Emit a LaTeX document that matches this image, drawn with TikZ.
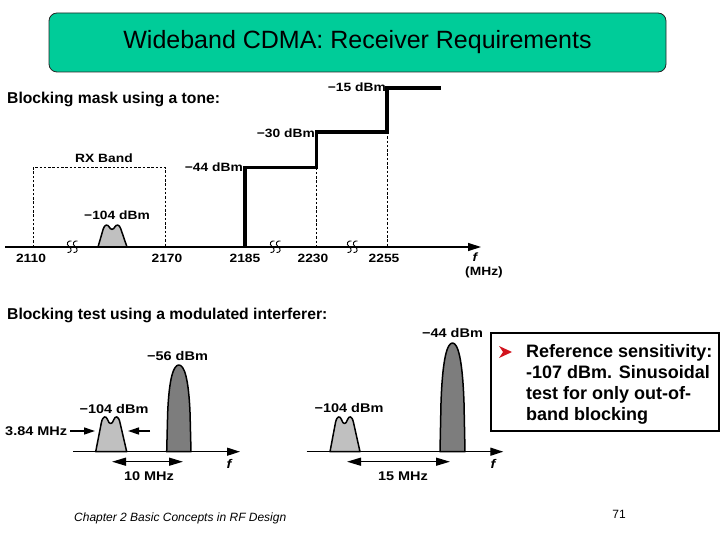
\documentclass[tikz,border=0pt]{standalone}
\usepackage{fontspec}
\setmainfont{Liberation Sans}
\newfontfamily\figfont{Liberation Sans}[FakeStretch=1.15]
\usetikzlibrary{arrows.meta}

\definecolor{titlegreen}{RGB}{0,204,153}
\definecolor{bandlight}{RGB}{192,192,192}
\definecolor{banddark}{RGB}{125,125,125}
\definecolor{bulletred}{RGB}{210,20,30}

\tikzset{
  titlebox/.style={draw=black!85,line width=0.8pt,fill=titlegreen,rounded corners=8pt,
    minimum width=617pt,minimum height=59pt,font=\fontsize{25}{30}\selectfont},
  headtxt/.style={anchor=base west,inner sep=0pt,font=\bfseries\fontsize{15.7}{19}\selectfont},
  toplbl/.style={anchor=base,inner sep=0pt,font=\figfont\bfseries\fontsize{12}{14}\selectfont},
  botlbl/.style={anchor=base,inner sep=0pt,font=\figfont\bfseries\fontsize{12.6}{15}\selectfont},
  maskline/.style={line width=3.6pt},
  dashline/.style={line width=0.9pt,dash pattern=on 2.5pt off 1.8pt},
  axisline/.style={line width=1.3pt,-{Triangle[length=13pt,width=8pt]}},
  spanarrow/.style={line width=1.3pt,{Triangle[length=14pt,width=8pt]}-{Triangle[length=14pt,width=8pt]}},
  bwarrow/.style={line width=1.3pt,-{Triangle[length=11pt,width=7pt]}},
  bandline/.style={line width=1.5pt,line join=round},
  breakline/.style={line width=0.9pt},
  notebox/.style={draw,line width=1.2pt,minimum width=228pt,minimum height=98pt},
  notetxt/.style={anchor=base west,inner sep=0pt,font=\bfseries\fontsize{18}{21}\selectfont},
}

% wanted channel: #1,#2 = foot left, #3 = width, #4 = height
\newcommand{\wantband}[4]{%
  \begin{scope}[shift={(#1,#2)},xscale=#3/30,yscale=#4/30]
    \draw[bandline,fill=bandlight] (0,0) -- (5.5,-25)
      .. controls (7,-31) and (10,-31) .. (11.5,-27.5)
      .. controls (13,-23) and (16,-23) .. (17.5,-27.5)
      .. controls (19,-31) and (22,-31) .. (23.5,-25) -- (30,0) -- cycle;
  \end{scope}}
% interferer
\newcommand{\blockband}[4]{%
  \begin{scope}[shift={(#1,#2)},xscale=#3/25,yscale=#4/100]
    \draw[bandline,fill=banddark] (0,0) -- (1,-45)
      .. controls (2.5,-85) and (7,-100) .. (12.5,-100)
      .. controls (18,-100) and (22.5,-85) .. (24,-45) -- (25,0) -- cycle;
  \end{scope}}
% break mark on the axis
\newcommand{\axisbreak}[2]{%
  \foreach \d in {-3,3} {
    \draw[breakline] (#1+\d+2.5,#2-6) .. controls (#1+\d-1,#2-7) and (#1+\d-3.5,#2-3) .. (#1+\d,#2-0.5)
      .. controls (#1+\d+3.5,#2+2) and (#1+\d+2.5,#2+6) .. (#1+\d-1.5,#2+5.5);
  }}

\begin{document}
\begin{tikzpicture}[x=1pt,y=-1pt]
  \useasboundingbox (0,0) rectangle (720,540);

  \node[titlebox] (title) at (357.5,42.5) {Wideband CDMA: Receiver Requirements};

  \node[headtxt] (head1) at (7,104) {Blocking mask using a tone:};
  \node[headtxt] (head2) at (7,319) {Blocking test using a modulated interferer:};

  % --- blocking mask ---
  \coordinate (rx0) at (33,247);
  \coordinate (rx1) at (33,167.5);
  \coordinate (rx2) at (165.5,167.5);
  \coordinate (rx3) at (165.5,247);
  \draw[dashline] (rx0) -- (rx1) -- (rx2) -- (rx3);
  \node[toplbl] (rxband) at (104,163) {RX Band};

  \wantband{98}{247}{29}{22}
  \node[toplbl] (sig1) at (117,219) {−104 dBm};

  \coordinate (m0) at (245,247);
  \coordinate (m1) at (245,167.5);
  \coordinate (m2) at (316.5,167.5);
  \coordinate (m3) at (316.5,132);
  \coordinate (m4) at (387,132);
  \coordinate (m5) at (387,88);
  \coordinate (m6) at (441,88);
  \draw[dashline] (m2) -- (m2 |- m0);
  \draw[dashline] (m4) -- (m4 |- m0);
  \draw[maskline] (m0) -- (m1) -- (m2) -- (m3) -- (m4) -- (m5) -- (m6);
  \node[toplbl,anchor=base east] (lvl1) at (243,172) {−44 dBm};
  \node[toplbl,anchor=base east] (lvl2) at (315,138) {−30 dBm};
  \node[toplbl,anchor=base east] (lvl3) at (386,92) {−15 dBm};

  \coordinate (ax0) at (5,247);
  \coordinate (ax1) at (481,247);
  \draw[axisline] (ax0) -- (ax1);
  \foreach \xx/\lab in {31/2110,167/2170,245/2185,313/2230,384/2255}
    \node[toplbl] (tick\lab) at (\xx,262) {\lab};
  \axisbreak{72}{247}
  \axisbreak{275}{247}
  \axisbreak{352}{247}
  \node[toplbl] (fa) at (475,261) {\itshape f};
  \node[toplbl] (mhz) at (484,275) {(MHz)};

  % --- test 1: 10 MHz offset ---
  \wantband{95.7}{451.7}{31}{35}
  \blockband{166.7}{451.7}{24.3}{86.7}
  \coordinate (b0) at (73,451.7);
  \coordinate (b1) at (240,451.7);
  \draw[axisline] (b0) -- (b1);
  \node[botlbl] (fb) at (229,468) {\itshape f};
  \node[botlbl] (blk1) at (177.5,360) {−56 dBm};
  \node[botlbl] (sig2) at (114,413) {−104 dBm};
  \node[botlbl,anchor=base west] (bw) at (5,435) {3.84 MHz};
  \coordinate (bwl0) at (70,431);
  \coordinate (bwl1) at (95,431);
  \coordinate (bwr0) at (150,431);
  \coordinate (bwr1) at (128,431);
  \draw[bwarrow] (bwl0) -- (bwl1);
  \draw[bwarrow] (bwr0) -- (bwr1);
  \coordinate (s0) at (112,461.7);
  \coordinate (s1) at (183,461.7);
  \draw[spanarrow] (s0) -- (s1);
  \node[botlbl] (off1) at (149,480) {10 MHz};

  % --- test 2: 15 MHz offset ---
  \wantband{330}{451.7}{30}{35}
  \blockband{440}{451.7}{25}{108.7}
  \coordinate (c0) at (306.7,451.7);
  \coordinate (c1) at (503.3,451.7);
  \draw[axisline] (c0) -- (c1);
  \node[botlbl] (fc) at (493,468) {\itshape f};
  \node[botlbl] (blk2) at (452.5,337) {−44 dBm};
  \node[botlbl] (sig3) at (349,412) {−104 dBm};
  \coordinate (t0) at (347,461.7);
  \coordinate (t1) at (450,461.7);
  \draw[spanarrow] (t0) -- (t1);
  \node[botlbl] (off2) at (403,480) {15 MHz};

  % --- note ---
  \node[notebox] (note) at (605,382) {};
  \fill[bulletred] (499,346) -- (512,352) -- (499,358) -- (503,352) -- cycle;
  \foreach \ln [count=\k] in {Reference sensitivity:,-107 dBm. Sinusoidal,test for only out-of-,band blocking}
    \node[notetxt] (note\k) at (526,{357+21.3*(\k-1)}) {\ln};

  % --- footer ---
  \node[anchor=base west,inner sep=0pt,font=\itshape\fontsize{12}{14}\selectfont] (chap) at (74,521) {Chapter 2 Basic Concepts in RF Design};
  \node[anchor=base,inner sep=0pt,font=\fontsize{12}{14}\selectfont] (page) at (619,518) {71};
\end{tikzpicture}
\end{document}
